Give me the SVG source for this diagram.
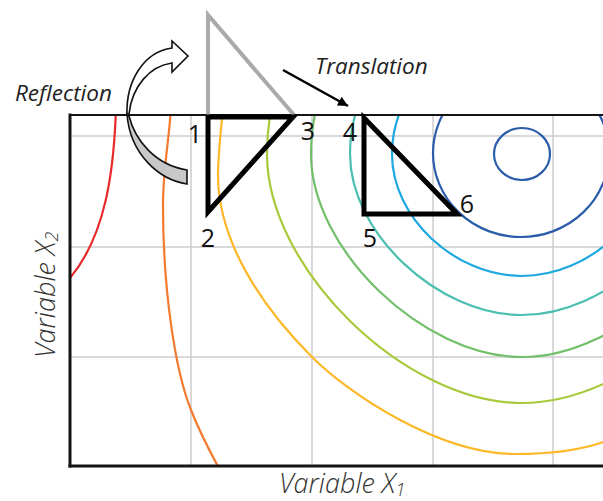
<svg xmlns="http://www.w3.org/2000/svg" width="603" height="501" viewBox="0 0 603 501">
<style>
.grid{stroke:#cccccc;stroke-width:1.5;fill:none}
.ct{fill:none;stroke-width:2.2}
.tri{fill:none;stroke:#000;stroke-width:5;stroke-linejoin:miter;stroke-miterlimit:10}
.num{font-family:"Open Sans","Noto Sans",sans-serif;font-size:25px;fill:#111;text-anchor:middle}
.ital{font-family:"Open Sans","Noto Sans",sans-serif;font-style:italic;font-size:22.5px;fill:#222}
.axis{font-family:"Open Sans","Noto Sans",sans-serif;font-style:italic;font-weight:300;font-size:27px;fill:#333}
</style>
<defs>
<clipPath id="plotclip"><rect x="70" y="115" width="533" height="351"/></clipPath>
<marker id="ah" viewBox="0 0 10 10" refX="10" refY="5" markerWidth="13" markerHeight="10" markerUnits="userSpaceOnUse" orient="auto"><path d="M0,0 L10,5 L0,10 Z" fill="#000"/></marker>
</defs>
<rect width="603" height="501" fill="#fff"/>
<g id="grid" class="grid">
<line x1="191" y1="115" x2="191" y2="466"/>
<line x1="312" y1="115" x2="312" y2="466"/>
<line x1="433" y1="115" x2="433" y2="466"/>
<line x1="553" y1="115" x2="553" y2="466"/>
<line x1="70" y1="136" x2="603" y2="136"/>
<line x1="70" y1="247" x2="603" y2="247"/>
<line x1="70" y1="357" x2="603" y2="357"/>
</g>
<g id="contours" clip-path="url(#plotclip)">
<path class="ct" stroke="#e8282b" d="M116,108 C114,170 106,235 70,278 L60,290"/>
<path class="ct" stroke="#f37a2e" d="M171,108 C169,140 163,170 163,205 C163,290 175,370 191,410 C199,430 210,452 220,470"/>
<path class="ct" stroke="#fdb827" d="M223,108 C221,130 218,155 218,175 C218,240 260,305 312,357 C350,395 440,454 515,454 C560,454 590,447 606,441"/>
<path class="ct" stroke="#a8c93a" d="M267,154 C267,268.5 404.7,403 522,403 C639.3,403 777,268.5 777,154 C777,16.5 662.8,-95 522,-95 C381.2,-95 267,16.5 267,154 Z"/>
<path class="ct" stroke="#72bf6a" d="M311,154 C311,249.4 422.8,357 522,357 C621.2,357 733,249.4 733,154 C733,41.9 638.5,-49 522,-49 C405.5,-49 311,41.9 311,154 Z"/>
<path class="ct" stroke="#4bbfb0" d="M350,154 C350,232.9 437.7,315 522,315 C606.3,315 694,232.9 694,154 C694,65.1 617,-7 522,-7 C427,-7 350,65.1 350,154 Z"/>
<path class="ct" stroke="#1ea8e0" d="M392,154 C392,217.4 454.4,276 522,276 C589.6,276 652,217.4 652,154 C652,86.6 593.8,32 522,32 C450.2,32 392,86.6 392,154 Z"/>
<ellipse class="ct" stroke="#2a5caa" cx="521" cy="153" rx="88" ry="84"/>
<ellipse class="ct" stroke="#2a5caa" cx="522" cy="154" rx="28" ry="26"/>
</g>
<g id="axes" fill="none" stroke="#141414">
<line x1="70" y1="115" x2="603" y2="115" stroke-width="2"/>
<line x1="70" y1="113.5" x2="70" y2="467.5" stroke-width="3"/>
<line x1="68.5" y1="466" x2="603" y2="466" stroke-width="3"/>
</g>
<g id="triangle-original">
<polyline points="208,115 208,15 294,115" fill="none" stroke="#aaaaaa" stroke-width="4"/>
</g>
<g id="triangle-reflected">
<polygon class="tri" points="208,117 208,212 293,117"/>
<text class="num" x="195" y="143">1</text>
<text class="num" x="208" y="247">2</text>
<text class="num" x="308" y="140">3</text>
</g>
<g id="triangle-translated">
<polygon class="tri" points="364,118 364,214 457,214"/>
<text class="num" x="350" y="141">4</text>
<text class="num" x="370" y="247">5</text>
<text class="num" x="467" y="213">6</text>
</g>
<g id="connectors">
<g id="reflection-arrow" stroke="#111" stroke-width="1.6" stroke-linejoin="miter">
<path d="M127,114 C130,155 160,180 187,184 L187,170 C155,165 135,140 129,116 Z" fill="#c8c8c8"/>
<path d="M127,114 C126,82 143,52 172,48 L172,41 L188,56 L172,72 L172,63 C150,66 132,86 129,114 Z" fill="#fff"/>
</g>
<line id="translation-arrow" x1="283" y1="70" x2="348" y2="106" stroke="#000" stroke-width="2.5" marker-end="url(#ah)"/>
</g>
<g id="labels">
<text class="ital" x="15" y="101">Reflection</text>
<text class="ital" x="315" y="74">Translation</text>
<text class="axis" x="279" y="493">Variable X<tspan font-size="18" dy="3">1</tspan></text>
<text class="axis" transform="translate(55,358) rotate(-90)">Variable X<tspan font-size="18" dy="3">2</tspan></text>
</g>
</svg>
